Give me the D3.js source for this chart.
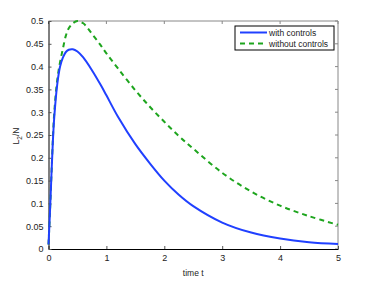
<!DOCTYPE html>
<html>
<head>
<meta charset="utf-8">
<script src="https://cdn.jsdelivr.net/npm/d3@7"></script>
<style>
  body { margin: 0; background: #fff; }
  text { font-family: "Liberation Sans", Arial, sans-serif; }
</style>
</head>
<body>
<svg id="chart" width="374" height="281"></svg>
<script>
// time samples
var times = [0, 0.025, 0.05, 0.075, 0.1, 0.15, 0.2, 0.25, 0.3, 0.35, 0.42, 0.5, 0.6, 0.75, 0.9, 1.0, 1.2, 1.5, 1.75, 2.0, 2.25, 2.5, 3.0, 3.5, 4.0, 4.5, 5.0];
var withControls = [0.01, 0.08, 0.16, 0.235, 0.29, 0.36, 0.40, 0.42, 0.432, 0.437, 0.438, 0.433, 0.42, 0.392, 0.36, 0.337, 0.29, 0.23, 0.188, 0.15, 0.119, 0.094, 0.058, 0.036, 0.023, 0.015, 0.011];
var withoutControls = [0.01, 0.08, 0.16, 0.24, 0.30, 0.37, 0.41, 0.44, 0.468, 0.484, 0.495, 0.5, 0.495, 0.472, 0.447, 0.429, 0.396, 0.348, 0.312, 0.279, 0.248, 0.22, 0.167, 0.126, 0.095, 0.072, 0.053];
var xTicks = [0, 1, 2, 3, 4, 5];
var yTicks = [0, 0.05, 0.1, 0.15, 0.2, 0.25, 0.3, 0.35, 0.4, 0.45, 0.5];
var seriesNames = ["with controls", "without controls"];

var svg = d3.select("#chart"),
    margin = {left: 48.5, right: 36, top: 21, bottom: 32},
    width = 374 - margin.left - margin.right,
    height = 281 - margin.top - margin.bottom;

var x = d3.scaleLinear().domain([0, 5]).range([margin.left, margin.left + width]);
var y = d3.scaleLinear().domain([0, 0.5]).range([margin.top + height, margin.top]);

var g = svg.append("g");

// box (top / right in grey like the original)
g.append("line").attr("x1", x(0)).attr("x2", x(5)).attr("y1", y(0.5)).attr("y2", y(0.5)).attr("stroke", "#888");
g.append("line").attr("x1", x(5)).attr("x2", x(5)).attr("y1", y(0)).attr("y2", y(0.5)).attr("stroke", "#888");

// ticks on the opposite sides
g.selectAll(".tt").data(xTicks).enter().append("line")
    .attr("x1", function (d) { return x(d); }).attr("x2", function (d) { return x(d); })
    .attr("y1", y(0.5)).attr("y2", y(0.5) + 3).attr("stroke", "#888");
g.selectAll(".rt").data(yTicks).enter().append("line")
    .attr("x1", x(5)).attr("x2", x(5) - 3)
    .attr("y1", function (d) { return y(d); }).attr("y2", function (d) { return y(d); }).attr("stroke", "#888");

var xAxis = g.append("g")
    .attr("transform", "translate(0," + y(0) + ")")
    .call(d3.axisBottom(x).tickValues(xTicks).tickSizeInner(-3).tickSizeOuter(0).tickPadding(6).tickFormat(d3.format("d")));
var yAxis = g.append("g")
    .attr("transform", "translate(" + x(0) + ",0)")
    .call(d3.axisLeft(y).tickValues(yTicks).tickSizeInner(-3).tickSizeOuter(0).tickPadding(5).tickFormat(function (d) { return d === 0 ? "0" : String(d); }));

[xAxis, yAxis].forEach(function (a) {
  a.select(".domain").attr("stroke", "#000");
  a.selectAll(".tick line").attr("stroke", "#555");
  a.selectAll("text").attr("font-size", 9).attr("fill", "#222").style("font-family", "Liberation Sans, Arial, sans-serif");
});

var line = d3.line().curve(d3.curveCatmullRom.alpha(0.5))
    .x(function (d) { return x(d[0]); })
    .y(function (d) { return y(d[1]); });

var plot = g.append("g");
plot.append("path")
    .datum(d3.zip(times, withoutControls))
    .attr("fill", "none").attr("stroke", "#1ea51e").attr("stroke-width", 2)
    .attr("stroke-dasharray", "5,4")
    .attr("d", line);
plot.append("path")
    .datum(d3.zip(times, withControls))
    .attr("fill", "none").attr("stroke", "#2040ff").attr("stroke-width", 2)
    .attr("d", line);

// axis labels
g.append("text").attr("x", x(2.5)).attr("y", 276).attr("text-anchor", "middle")
    .attr("font-size", 8.5).attr("fill", "#222").text("time t");
var yl = g.append("text").attr("transform", "translate(19," + 136 + ") rotate(-90)")
    .attr("text-anchor", "middle").attr("font-size", 8.5).attr("fill", "#222");
yl.append("tspan").text("L");
yl.append("tspan").attr("dy", 2.5).attr("font-size", 6.5).text("2");
yl.append("tspan").attr("dy", -2.5).text("/N");

// legend
var leg = g.append("g").attr("transform", "translate(235,26)");
leg.append("rect").attr("width", 99).attr("height", 24).attr("fill", "#fff").attr("stroke", "#000").attr("stroke-width", 1);
var styles = [{c: "#2040ff", dash: null}, {c: "#1ea51e", dash: "5,4"}];
seriesNames.forEach(function (name, i) {
  var yy = 6.5 + i * 11;
  leg.append("line").attr("x1", 5).attr("x2", 32).attr("y1", yy).attr("y2", yy)
      .attr("stroke", styles[i].c).attr("stroke-width", 2).attr("stroke-dasharray", styles[i].dash);
  leg.append("text").attr("x", 34).attr("y", yy + 3).attr("font-size", 8.5).attr("fill", "#222").text(name);
});
</script>
</body>
</html>
